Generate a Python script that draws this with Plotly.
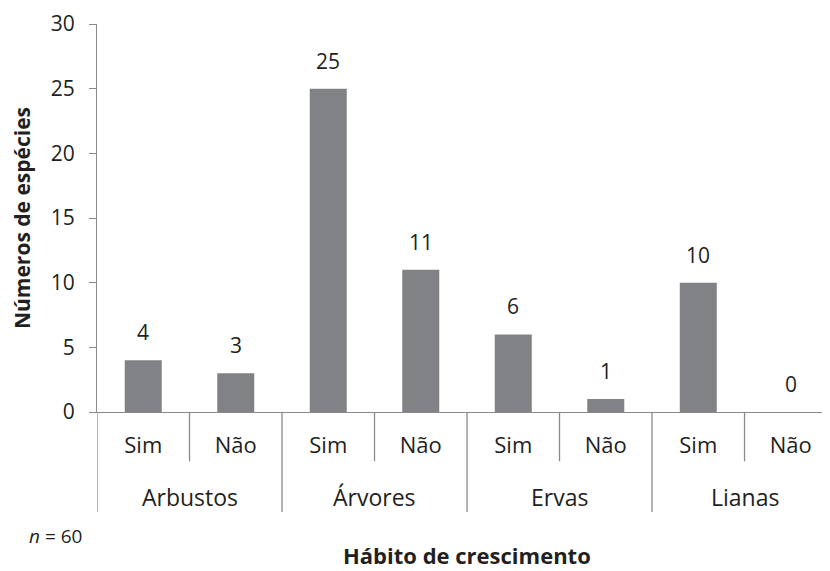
import plotly.graph_objects as go

groups = ["Arbustos", "Árvores", "Ervas", "Lianas"]
answers = ["Sim", "Não"]
values = [4, 3, 25, 11, 6, 1, 10, 0]
y_ticks = [0, 5, 10, 15, 20, 25, 30]

n_total = 60
bar_color = "#808285"
line_color = "#8a8a8a"
text_color = "#231f20"
font_family = "Open Sans"

xs = list(range(len(values)))
inner_labels = [a for g in groups for a in answers]

fig = go.Figure()
fig.add_trace(go.Bar(x=xs, y=values, width=0.4, marker=dict(color=bar_color, line=dict(width=0)),
                     hoverinfo="skip"))

# value labels
for x, v in zip(xs, values):
    fig.add_annotation(x=x, y=v, text=str(v), showarrow=False, yanchor="bottom", yshift=12,
                       font=dict(size=21, color=text_color, family=font_family))

shapes = []
n_per = len(answers)
# inner dividers
for gi in range(len(groups)):
    xi = gi * n_per + 0.5
    shapes.append(dict(type="line", xref="x", yref="paper", x0=xi, x1=xi, y0=0, y1=-0.127,
                       line=dict(color=line_color, width=1.3)))
# outer dividers
for gi in range(len(groups) + 1):
    xo = gi * n_per - 0.5
    shapes.append(dict(type="line", xref="x", yref="paper", x0=xo, x1=xo, y0=0, y1=-0.258,
                       line=dict(color=line_color, width=1.3)))
# group labels
for gi, g in enumerate(groups):
    fig.add_annotation(x=gi * n_per + 0.5, y=-0.219, xref="x", yref="paper", text=g, showarrow=False,
                       yanchor="middle", font=dict(size=23, color=text_color, family=font_family))

fig.add_annotation(x=3.5, y=-0.368, xref="x", yref="paper", text="<b>Hábito de crescimento</b>",
                   showarrow=False, yanchor="middle", font=dict(size=22, color=text_color, family=font_family))
fig.add_annotation(x=-0.095, y=-0.32, xref="paper", yref="paper", text=f"<i>n</i> = {n_total}",
                   showarrow=False, xanchor="left", yanchor="middle",
                   font=dict(size=19, color=text_color, family=font_family))

fig.update_layout(
    width=822, height=563,
    margin=dict(l=89, r=0, t=16, b=159),
    plot_bgcolor="white", paper_bgcolor="white",
    showlegend=False,
    shapes=shapes,
    font=dict(family=font_family, color=text_color),
    xaxis=dict(range=[-0.5, 7.424], tickvals=xs, ticktext=inner_labels, showline=True,
               linecolor=line_color, linewidth=1.3, showgrid=False, zeroline=False, ticks="",
               ticklabelstandoff=13, tickfont=dict(size=22, color=text_color)),
    yaxis=dict(range=[0, 30], tickvals=y_ticks, showline=True, linecolor=line_color, linewidth=1.3,
               showgrid=False, zeroline=False, ticks="outside", ticklen=7, tickcolor=line_color,
               tickwidth=1.3, ticklabelstandoff=10, tickfont=dict(size=21, color=text_color),
               title=dict(text="<b>Números de espécies</b>", font=dict(size=21, color=text_color),
                          standoff=16)),
)

fig.write_html("out.html")
